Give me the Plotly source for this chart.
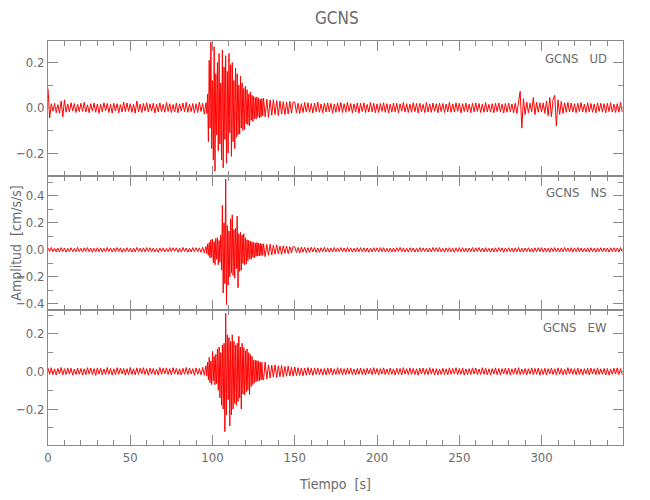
import numpy as np
import plotly.graph_objects as go
from plotly.subplots import make_subplots

# Station / components
station = "GCNS"
components = ["UD", "NS", "EW"]

# Sample times (s): 1 s steps before/after the strong motion, 0.5 s steps through it
t_pre = np.arange(0, 96, 1.0)        # 0 .. 95
t_strong = np.arange(96, 131, 0.5)   # 96 .. 130.5
t_post = np.arange(131, 350, 1.0)    # 131 .. 349

# Trace values in thousandths of cm/s/s
ud_pre = [85,-45,18,-15,20,-22,14,-25,30,-40,
          35,-20,16,-18,22,-14,19,-21,15,-17,
          20,-16,24,-19,13,-22,18,-15,21,-20,
          17,-24,15,-18,22,-13,19,-21,16,-23,
          20,-15,18,-22,14,-19,25,-17,21,-16,
          18,-20,15,-24,30,-18,16,-21,19,-14,
          22,-19,17,-15,20,-23,16,-18,21,-17,
          15,-20,23,-16,18,-21,14,-19,20,-22,
          17,-15,21,-18,24,-20,16,-17,19,-23,
          18,-21,25,-16,20,-28]
ud_strong = [22,-25,60,-150,210,-90,290,-180,120,-230,
             270,-280,150,-120,200,-190,240,-160,110,-230,
             255,-265,180,-140,230,-245,160,-200,240,-110,
             190,-215,200,-150,120,-180,175,-130,150,-120,
             100,-115,140,-90,110,-100,85,-95,95,-70,
             80,-75,60,-80,70,-55,55,-60,50,-48,
             45,-50,48,-40,42,-45,38,-40,40,-36]
ud_post = [42,-40,38,-42,35,-33,36,-30,32,-35,30,-28,27,-30,25,-27,28,-24,26,
           24,-22,20,-25,18,-21,23,-19,22,-20,
           19,-23,21,-18,25,-20,17,-22,20,-19,
           22,-18,19,-24,16,-20,21,-17,23,-21,
           18,-20,24,-16,19,-22,17,-19,21,-23,
           20,-17,22,-21,15,-19,23,-18,20,-22,
           17,-21,19,-16,22,-20,18,-23,16,-19,
           21,-18,20,-22,17,-15,23,-19,18,-21,
           16,-20,22,-17,19,-23,20,-18,15,-21,
           23,-19,17,-20,21,-16,18,-22,20,-17,
           19,-21,16,-18,24,-20,17,-19,22,-16,
           20,-23,18,-17,21,-19,16,-22,20,-18,
           22,-16,19,-21,17,-20,23,-18,15,-19,
           18,-22,20,-17,21,-19,16,-23,19,-20,
           21,-18,17,-22,20,-25,30,73,-90,40,
           -30,25,-22,20,-18,45,-30,24,-20,22,
           -19,22,-25,30,-35,45,-40,38,55,-80,
           35,-30,28,-25,22,-20,24,-18,21,-19,
           18,-22,20,-17,23,-19,16,-21,22,-18,
           19,-20,17,-23,21,-16,20,-19,18,-22,
           20,-17,22,-19,16,-21,18,-20,23,-18]

ns_pre = [15,-12,18,-14,11,-16,13,-15,17,-12,
          14,-17,12,-13,16,-15,11,-14,18,-13,
          12,-16,15,-11,17,-14,13,-18,12,-15,
          16,-13,14,-17,11,-15,18,-12,14,-16,
          13,-14,17,-12,15,-18,11,-13,16,-15,
          12,-17,14,-15,18,-11,13,-16,15,-14,
          17,-12,16,-14,13,-15,11,-18,14,-13,
          15,-16,12,-14,17,-13,16,-11,15,-17,
          13,-15,18,-12,14,-16,12,-15,17,-14,
          16,-13,15,-18,20,-22]
ns_strong = [25,-28,45,-40,55,-60,75,-55,80,-95,
             60,-110,85,-70,90,-110,70,-90,110,-150,
             330,-320,200,-250,525,-405,180,-260,140,-200,
             230,-170,260,-190,150,-210,160,-140,250,-280,
             120,-160,130,-150,110,-100,120,-110,90,-105,
             75,-80,70,-65,65,-70,60,-55,55,-60,
             50,-48,55,-45,50,-45,48,-42,45,-40]
ns_post = [45,-50,40,-40,42,-38,35,-32,38,-30,28,-33,30,-25,27,-28,24,-22,25,
           22,-20,18,-24,20,-17,19,-21,16,-18,
           20,-15,17,-19,14,-18,16,-14,19,-16,
           15,-17,13,-16,18,-14,15,-13,17,-15,
           14,-16,18,-13,15,-17,12,-15,16,-14,
           17,-13,15,-16,14,-18,13,-15,16,-12,
           15,-14,17,-13,16,-15,12,-17,14,-16,
           13,-15,16,-12,18,-14,15,-16,13,-17,
           16,-13,14,-17,12,-15,17,-14,15,-13,
           14,-16,13,-15,18,-12,16,-14,17,-15,
           12,-17,15,-13,16,-14,13,-18,15,-16,
           17,-14,16,-15,13,-16,14,-13,18,-15,
           15,-12,17,-16,14,-15,16,-13,12,-17,
           13,-16,15,-14,17,-13,15,-18,14,-12,
           16,-15,13,-17,15,-14,18,-16,13,-15,
           14,-13,16,-15,12,-17,15,-14,16,-13,
           17,-15,14,-16,13,-18,15,-12,17,-14,
           13,-16,15,-14,18,-13,14,-15,16,-17,
           15,-13,17,-15,14,-16,12,-14,15,-16,
           16,-14,13,-17,15,-12,16,-15,14,-13,
           14,-17,15,-13,16,-15,13,-16,17,-14]

ew_pre = [18,-15,20,-17,14,-19,16,-13,21,-18,
          15,-16,19,-14,17,-20,13,-16,18,-15,
          16,-19,14,-17,20,-13,18,-16,15,-21,
          19,-14,17,-18,13,-16,21,-15,16,-19,
          14,-17,20,-15,18,-13,16,-20,15,-17,
          21,-16,14,-18,19,-15,17,-13,20,-16,
          15,-20,18,-14,16,-17,13,-19,21,-15,
          17,-13,19,-16,15,-18,20,-14,16,-17,
          14,-19,17,-15,21,-16,18,-13,15,-20,
          19,-15,16,-18,22,-20]
ew_strong = [30,-25,50,-45,75,-60,55,-70,107,-50,
             80,-70,90,-65,120,-100,130,-140,100,-180,
             140,-200,150,-320,310,-230,195,-150,180,-290,
             160,-230,195,-200,160,-170,140,-180,150,-160,
             187,-140,130,-200,150,-120,127,-125,110,-110,
             120,-100,100,-124,90,-80,80,-70,60,-60,
             60,-55,58,-50,55,-50,50,-45,48,-42]
ew_post = [-45,50,-40,35,-35,33,-30,35,-32,30,-28,32,-30,27,-25,28,-24,22,-25,
           24,-22,20,-21,19,-23,18,-20,21,-19,
           17,-20,19,-16,18,-17,15,-19,16,-18,
           19,-15,17,-18,14,-16,20,-15,17,-19,
           15,-17,19,-14,18,-16,13,-18,16,-15,
           18,-16,14,-19,17,-13,16,-17,20,-15,
           16,-18,15,-14,19,-17,13,-16,18,-15,
           14,-19,17,-15,16,-18,20,-14,15,-17,
           19,-15,16,-17,14,-20,17,-13,18,-16,
           15,-17,20,-14,16,-19,15,-18,13,-16,
           17,-16,14,-18,19,-15,16,-14,20,-17,
           16,-15,18,-19,14,-17,15,-16,19,-14,
           18,-17,13,-16,20,-15,17,-18,14,-19,
           15,-14,19,-17,16,-18,15,-13,18,-16,
           17,-19,14,-15,18,-16,20,-17,13,-15,
           16,-18,15,-14,19,-17,16,-15,18,-20,
           14,-16,17,-19,15,-13,18,-16,14,-17,
           19,-15,16,-18,13,-17,20,-14,16,-15,
           15,-17,18,-16,14,-19,15,-13,17,-18,
           18,-14,15,-17,19,-16,14,-15,16,-19,
           16,-18,13,-15,17,-14,19,-16,15,-17]

traces = [(ud_pre, ud_strong, ud_post),
          (ns_pre, ns_strong, ns_post),
          (ew_pre, ew_strong, ew_post)]

# Axis ranges / tick values and labels
x_range = [0, 349.5]
y_ranges = [[-0.300, 0.295], [-0.448, 0.550], [-0.391, 0.325]]
y_tickvals = [[-0.2, 0.0, 0.2], [-0.4, -0.2, 0.0, 0.2, 0.4], [-0.2, 0.0, 0.2]]
y_ticktext = [["\u22120.2", "0.0", "0.2"],
              ["\u22120.4", "\u22120.2", "0.0", "0.2", "0.4"],
              ["\u22120.2", "0.0", "0.2"]]

FONT = "Liberation Sans Narrow, Arial Narrow, DejaVu Sans Condensed, sans-serif"
TXT = "#6a6a6a"
LINE = "#8a8a8a"

fig = make_subplots(rows=3, cols=1, vertical_spacing=0)

t_all = np.concatenate([t_pre, t_strong, t_post])
for i, (a, b, c) in enumerate(traces):
    v = np.array(a + b + c, dtype=float) * 1e-3
    fig.add_trace(go.Scatter(x=t_all, y=v, mode="lines",
                             line=dict(color="#ff0000", width=1),
                             hoverinfo="skip", showlegend=False),
                  row=i + 1, col=1)
    fig.update_xaxes(row=i + 1, col=1, range=x_range, tick0=0, dtick=50,
                     ticks="inside", ticklen=10, tickcolor=LINE, tickwidth=1,
                     minor=dict(dtick=10, ticks="inside", ticklen=5, tickcolor=LINE),
                     showline=True, linecolor=LINE, linewidth=1, mirror="allticks",
                     showgrid=False, zeroline=False, automargin=False,
                     showticklabels=(i == 2),
                     tickfont=dict(family=FONT, size=13, color=TXT))
    fig.update_yaxes(row=i + 1, col=1, range=y_ranges[i],
                     tickmode="array", tickvals=y_tickvals[i], ticktext=y_ticktext[i],
                     ticks="inside", ticklen=10, tickcolor=LINE, tickwidth=1,
                     minor=dict(tick0=0, dtick=0.1, ticks="inside", ticklen=5, tickcolor=LINE),
                     showline=True, linecolor=LINE, linewidth=1, mirror="allticks",
                     showgrid=False, zeroline=False, automargin=False,
                     tickfont=dict(family=FONT, size=13, color=TXT))
    yref = "y domain" if i == 0 else f"y{i + 1} domain"
    fig.add_annotation(text=f"{station}   {components[i]}", xref="paper", x=0.976,
                       xanchor="right", yref=yref, y=1, yanchor="middle", yshift=-17,
                       showarrow=False, font=dict(family=FONT, size=13, color=TXT))

# y-axis title on the middle panel, x-axis title on the bottom panel
fig.update_yaxes(row=2, col=1,
                 title=dict(text="Amplitud  [cm/s/s]",
                            font=dict(family=FONT, size=14, color=TXT)))
fig.update_xaxes(row=3, col=1,
                 title=dict(text="Tiempo  [s]",
                            font=dict(family=FONT, size=14, color=TXT)))

fig.add_annotation(text=station, xref="paper", x=0.5026, xanchor="center",
                   yref="paper", y=1.057, yanchor="middle", showarrow=False,
                   font=dict(family=FONT, size=17, color=TXT))

# The page body adds an 8 px offset, so margins are reduced by 8 px on the left/top
fig.update_layout(width=650, height=500, margin=dict(l=40, r=35, t=33, b=63),
                  paper_bgcolor="white", plot_bgcolor="white",
                  font=dict(family=FONT, color=TXT))

fig.write_html("out.html")
